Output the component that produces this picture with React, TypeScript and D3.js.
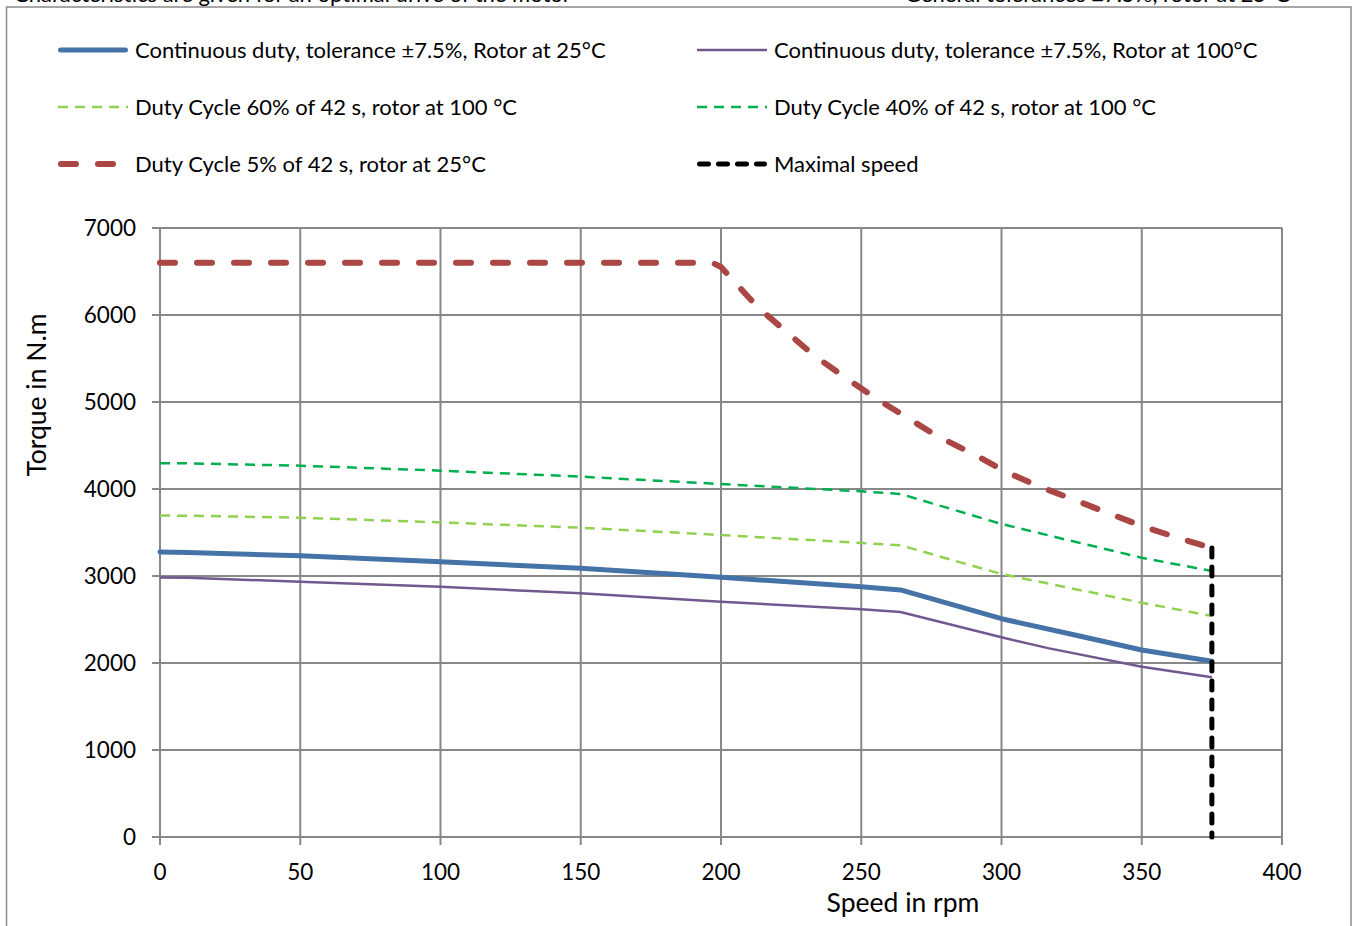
import React from "react";
import * as d3 from "d3";

// ---- Data ----
const speedCont25 = [0, 10, 50, 100, 150, 200, 250, 264, 300, 325, 350, 375];
const torqueCont25 = [3275, 3270, 3233, 3164, 3088, 2985, 2877, 2840, 2509, 2330, 2149, 2020];

const speedCont100 = [0, 10, 50, 100, 150, 200, 250, 264, 300, 317, 350, 375];
const torqueCont100 = [2982, 2980, 2934, 2877, 2801, 2705, 2617, 2586, 2295, 2168, 1958, 1836];

const speedDuty60 = [0, 10, 50, 100, 150, 200, 250, 264, 300, 350, 375];
const torqueDuty60 = [3695, 3693, 3670, 3616, 3555, 3471, 3380, 3353, 3023, 2693, 2540];

const speedDuty40 = [0, 10, 50, 100, 150, 200, 250, 264, 300, 323, 350, 375];
const torqueDuty40 = [4297, 4295, 4268, 4211, 4142, 4057, 3973, 3943, 3598, 3418, 3210, 3057];

const speedDuty5 = [0, 197, 200, 213, 223, 233, 244, 255, 266, 277, 290, 301, 313, 326, 338, 350, 363, 375];
const torqueDuty5 = [6600, 6600, 6552, 6092, 5816, 5540, 5287, 5046, 4828, 4609, 4402, 4207, 4034, 3874, 3724, 3575, 3437, 3322];

const speedMax = [375, 375];
const torqueMax = [3322, 0];

const xTicks = [0, 50, 100, 150, 200, 250, 300, 350, 400];
const yTicks = [0, 1000, 2000, 3000, 4000, 5000, 6000, 7000];

const seriesNames = [
  "Continuous duty, tolerance ±7.5%, Rotor at 25°C",
  "Continuous duty, tolerance ±7.5%, Rotor at 100°C",
  "Duty Cycle 60% of 42 s, rotor at 100 °C",
  "Duty Cycle 40% of 42 s, rotor at 100 °C",
  "Duty Cycle 5% of 42 s, rotor at 25°C",
  "Maximal speed",
];

const topLeftNote = "Characteristics are given for an optimal drive of the motor";
const topRightNote = "General tolerances ±7.5%, rotor at 25°C";
const xTitle = "Speed in rpm";
const yTitle = "Torque in N.m";

// ---- Styles ----
const FONT = "Lato, 'Open Sans', sans-serif";
const styles = [
  { color: "#4572A7", width: 5, dash: "", cap: "round" },
  { color: "#71588F", width: 2.5, dash: "", cap: "butt" },
  { color: "#92D050", width: 2.5, dash: "10,7", cap: "butt" },
  { color: "#00B050", width: 2.5, dash: "10,7", cap: "butt" },
  { color: "#AA4643", width: 6, dash: "15,22", cap: "round" },
  { color: "#000000", width: 5, dash: "9,10", cap: "round" },
];

export default function App() {
  const W = 1354;
  const H = 926;
  const left = 160, right = 1282, top = 228, bottom = 837;

  const x = d3.scaleLinear().domain([0, 400]).range([left, right]);
  const y = d3.scaleLinear().domain([0, 7000]).range([bottom, top]);

  const line = d3
    .line<[number, number]>()
    .x((d) => x(d[0]))
    .y((d) => y(d[1]));

  const zip = (a: number[], b: number[]) => a.map((v, i) => [v, b[i]] as [number, number]);

  const series = [
    zip(speedCont25, torqueCont25),
    zip(speedCont100, torqueCont100),
    zip(speedDuty60, torqueDuty60),
    zip(speedDuty40, torqueDuty40),
    zip(speedDuty5, torqueDuty5),
    zip(speedMax, torqueMax),
  ];

  const drawOrder = [1, 0, 2, 3, 4, 5];

  const legendPos = [
    { lx: 58, tx: 135, ly: 50 },
    { lx: 697, tx: 774, ly: 50 },
    { lx: 58, tx: 135, ly: 107 },
    { lx: 697, tx: 774, ly: 107 },
    { lx: 58, tx: 135, ly: 164 },
    { lx: 697, tx: 774, ly: 164 },
  ];

  const grid = "#888888";

  return (
    <svg
      width={W}
      height={H}
      style={{ position: "absolute", left: 0, top: 0, background: "#fff" }}
      fontFamily={FONT}
    >
      <rect x={0} y={0} width={W} height={H} fill="#fff" />
      {/* notes at the very top, cut off by the page edge as in the reference */}
      <text x={14} y={2} fontSize={22} fill="#000">{topLeftNote}</text>
      <text x={1290} y={2} fontSize={22} fill="#000" textAnchor="end">{topRightNote}</text>

      {/* frame */}
      <rect x={6.5} y={7} width={1344.5} height={960} fill="none" stroke="#8a8a8a" strokeWidth={1.5} />

      {/* grid */}
      {yTicks.map((t) => (
        <line key={"gy" + t} x1={left - 8} x2={right} y1={y(t)} y2={y(t)} stroke={grid} strokeWidth={2} />
      ))}
      {xTicks.map((t) => (
        <line key={"gx" + t} x1={x(t)} x2={x(t)} y1={top} y2={bottom + 8} stroke={grid} strokeWidth={2} />
      ))}

      {/* tick labels */}
      {yTicks.map((t) => (
        <text key={"ly" + t} x={136} y={y(t)} dy="0.35em" fontSize={22.5} textAnchor="end" fill="#000">
          {t}
        </text>
      ))}
      {xTicks.map((t) => (
        <text key={"lx" + t} x={x(t)} y={872} dy="0.35em" fontSize={22.5} textAnchor="middle" fill="#000">
          {t}
        </text>
      ))}

      {/* axis titles */}
      <text x={903} y={903} dy="0.35em" fontSize={26.5} textAnchor="middle" fill="#000">{xTitle}</text>
      <text
        transform={`translate(37,395) rotate(-90)`}
        dy="0.35em"
        fontSize={26.5}
        textAnchor="middle"
        fill="#000"
      >
        {yTitle}
      </text>

      {/* series */}
      {drawOrder.map((i) => (
        <path
          key={"s" + i}
          d={line(series[i]) || ""}
          fill="none"
          stroke={styles[i].color}
          strokeWidth={styles[i].width}
          strokeDasharray={styles[i].dash || undefined}
          strokeLinecap={styles[i].cap as any}
          strokeLinejoin="round"
        />
      ))}

      {/* legend */}
      {seriesNames.map((name, i) => {
        const p = legendPos[i];
        const s = styles[i];
        const inset = s.cap === "round" ? s.width / 2 : 0;
        return (
          <g key={"lg" + i}>
            <line
              x1={p.lx + inset}
              x2={p.lx + 70 - inset}
              y1={p.ly}
              y2={p.ly}
              stroke={s.color}
              strokeWidth={s.width}
              strokeDasharray={s.dash || undefined}
              strokeLinecap={s.cap as any}
            />
            <text x={p.tx} y={p.ly} dy="0.35em" fontSize={22} fill="#000">
              {name}
            </text>
          </g>
        );
      })}
    </svg>
  );
}
